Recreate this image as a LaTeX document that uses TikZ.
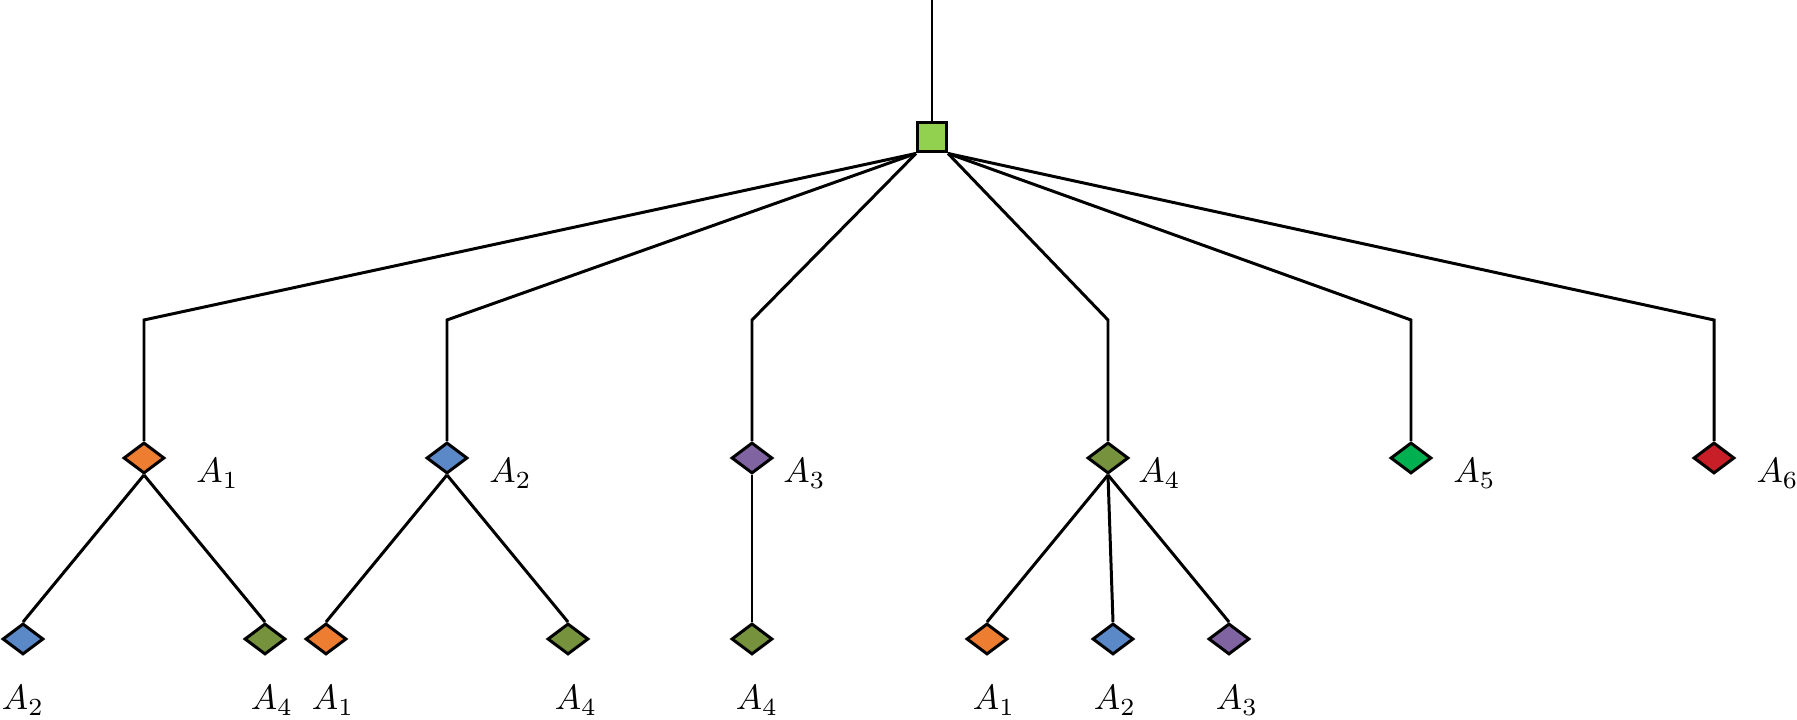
\documentclass[tikz,border=0pt]{standalone}
\usepackage{xcolor}
\usepackage{amssymb}
\usepackage{tikz}
\usetikzlibrary{shapes,arrows,positioning}

\definecolor{cOrange}{RGB}{237,125,49}
\definecolor{cBlue}{RGB}{91,137,200}
\definecolor{cOlive}{RGB}{118,146,60}
\definecolor{cPurple}{RGB}{128,100,162}
\definecolor{cGreen}{RGB}{0,176,80}
\definecolor{cRed}{RGB}{200,30,40}
\definecolor{cLime}{RGB}{146,208,80}

\begin{document}
\begin{tikzpicture}[line width=0.85pt,
		dec/.style={rectangle, draw, fill=cLime, minimum size=0.29cm, inner sep=0},
		act/.style={diamond, draw, minimum width=0.41cm, minimum height=0.31cm, inner sep=0},
		lab/.style={inner sep=0}]
		\useasboundingbox (0,0) rectangle (17.97,-7.20);
		% root decision
		\coordinate (top) at (9.32,0);
		\node[dec] (root) at (9.32,-1.375) {};
		\draw (top) -- (root);
		% first level
		\coordinate (c1) at (1.44,-3.20);
		\coordinate (c2) at (4.47,-3.20);
		\coordinate (c3) at (7.52,-3.20);
		\coordinate (c4) at (11.08,-3.20);
		\coordinate (c5) at (14.11,-3.20);
		\coordinate (c6) at (17.14,-3.20);
		\node[act, fill=cOrange] (a1) at (1.44,-4.58) {};
		\node[act, fill=cBlue] (a2) at (4.47,-4.58) {};
		\node[act, fill=cPurple] (a3) at (7.52,-4.58) {};
		\node[act, fill=cOlive] (a4) at (11.08,-4.58) {};
		\node[act, fill=cGreen] (a5) at (14.11,-4.58) {};
		\node[act, fill=cRed] (a6) at (17.14,-4.58) {};
		\draw (root.south west) -- (c1) -- (a1.north);
		\draw (root.south west) -- (c2) -- (a2.north);
		\draw (root.south west) -- (c3) -- (a3.north);
		\draw (root.south east) -- (c4) -- (a4.north);
		\draw (root.south east) -- (c5) -- (a5.north);
		\draw (root.south east) -- (c6) -- (a6.north);
		\node[lab, anchor=base west] (la1) at (1.95,-4.83) {$A_1$};
		\node[lab, anchor=base west] (la2) at (4.88,-4.83) {$A_2$};
		\node[lab, anchor=base west] (la3) at (7.82,-4.83) {$A_3$};
		\node[lab, anchor=base west] (la4) at (11.37,-4.83) {$A_4$};
		\node[lab, anchor=base west] (la5) at (14.52,-4.83) {$A_5$};
		\node[lab, anchor=base west] (la6) at (17.55,-4.83) {$A_6$};
		% second level
		\node[act, fill=cBlue] (b12) at (0.23,-6.39) {};
		\node[act, fill=cOlive] (b14) at (2.65,-6.39) {};
		\node[act, fill=cOrange] (b21) at (3.26,-6.39) {};
		\node[act, fill=cOlive] (b24) at (5.68,-6.39) {};
		\node[act, fill=cOlive] (b34) at (7.52,-6.39) {};
		\node[act, fill=cOrange] (b41) at (9.87,-6.39) {};
		\node[act, fill=cBlue] (b42) at (11.13,-6.39) {};
		\node[act, fill=cPurple] (b43) at (12.29,-6.39) {};
		\draw (a1.south) -- (b12.north);
		\draw (a1.south) -- (b14.north);
		\draw (a2.south) -- (b21.north);
		\draw (a2.south) -- (b24.north);
		\draw (a3.south) -- (b34.north);
		\draw (a4.south) -- (b41.north);
		\draw (a4.south) -- (b42.north);
		\draw (a4.south) -- (b43.north);
		\node[lab, anchor=base] (lb12) at (0.23,-7.10) {$A_2$};
		\node[lab, anchor=base] (lb14) at (2.72,-7.10) {$A_4$};
		\node[lab, anchor=base] (lb21) at (3.33,-7.10) {$A_1$};
		\node[lab, anchor=base] (lb24) at (5.76,-7.10) {$A_4$};
		\node[lab, anchor=base] (lb34) at (7.57,-7.10) {$A_4$};
		\node[lab, anchor=base] (lb41) at (9.94,-7.10) {$A_1$};
		\node[lab, anchor=base] (lb42) at (11.15,-7.10) {$A_2$};
		\node[lab, anchor=base] (lb43) at (12.37,-7.10) {$A_3$};
	\end{tikzpicture}
\end{document}
